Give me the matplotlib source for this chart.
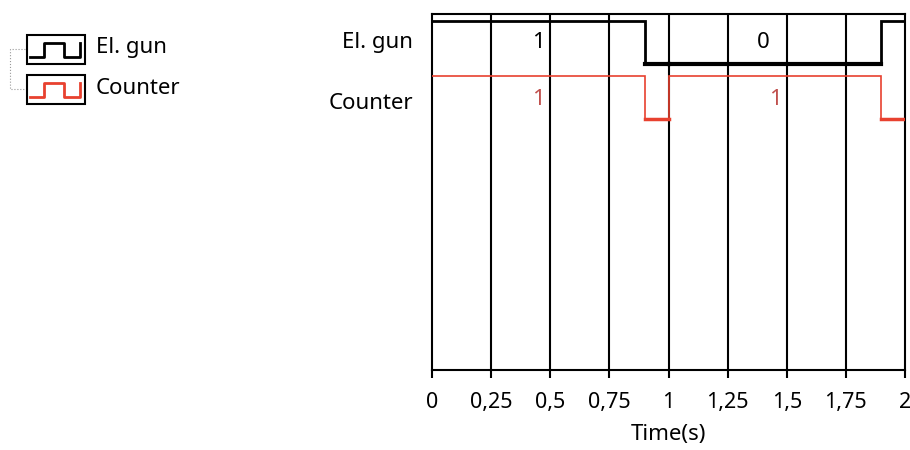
import matplotlib.pyplot as plt
from matplotlib.ticker import FuncFormatter

plt.rcParams['font.family'] = ['Noto Sans', 'DejaVu Sans']

# digital signals: (start time, bit) pairs, last edge closes at 2 s
edges = [0, 0.9, 1.0, 1.9, 2.0]
gun_bits = [1, 0, 0, 1]
counter_bits = [1, 0, 1, 0]
gun_labels = [(0.45, '1'), (1.4, '0')]
counter_labels = [(0.45, '1'), (1.45, '1')]
names = ['El. gun', 'Counter']
ticks = [0, 0.25, 0.5, 0.75, 1, 1.25, 1.5, 1.75, 2]

red = '#e8412f'
red_txt = '#c0504d'
fs = 16

fig = plt.figure(figsize=(9.1, 4.5), dpi=100)
ax = fig.add_axes([432 / 910, 80 / 450, 473 / 910, 356 / 450])

# vertical lane layout (in pixel-like units, 0 = bottom of plot)
amp = 43
gun_base, counter_base = 306, 251

def step(bits, base, color, lw, lw_low):
    xs, ys = [], []
    for i, b in enumerate(bits):
        xs += [edges[i], edges[i + 1]]
        ys += [base + b * amp, base + b * amp]
        if b == 0:
            # low levels are drawn a bit heavier
            ax.plot([edges[i], edges[i + 1]], [base, base], color=color, lw=lw_low, zorder=3)
    ax.plot(xs, ys, color=color, lw=lw, solid_joinstyle='miter', zorder=3)

for t in ticks[1:-1]:
    ax.axvline(t, color='black', lw=1.5, zorder=2)

step(gun_bits, gun_base, 'black', 2.0, 3.0)
step(counter_bits, counter_base, red, 1.2, 2.5)

for t, s in gun_labels:
    ax.text(t, gun_base + amp / 2, s, ha='center', va='center', fontsize=fs,
            color='black', zorder=4, bbox=dict(fc='white', ec='none', pad=1))
for t, s in counter_labels:
    ax.text(t, counter_base + amp / 2 - 2, s, ha='center', va='center', fontsize=fs,
            color=red_txt, zorder=4, bbox=dict(fc='white', ec='none', pad=1))

ax.set_xlim(0, 2)
ax.set_ylim(0, 356)
ax.set_yticks([])
ax.set_xticks(ticks)
ax.xaxis.set_major_formatter(FuncFormatter(lambda v, p: ('%g' % v).replace('.', ',')))
ax.tick_params(axis='x', direction='out', length=6, width=1.5, pad=10, labelsize=fs - 0.5)
for sp in ax.spines.values():
    sp.set_linewidth(1.5)
ax.set_xlabel('Time(s)', fontsize=fs, labelpad=8)

# lane names left of the plot
ax.text(-0.08, gun_base + amp / 2, names[0], ha='right', va='center', fontsize=fs)
ax.text(-0.08, counter_base + amp / 2 - 6, names[1], ha='right', va='center', fontsize=fs)

# legend with little waveform icons
lg = fig.add_axes([0, 0, 1, 1])
lg.set_xlim(0, 910)
lg.set_ylim(450, 0)
lg.axis('off')
for i, (name, col) in enumerate(zip(names, ['black', red])):
    y0 = 35 + i * 40
    lg.add_patch(plt.Rectangle((27, y0), 58, 29, fill=False, ec='black', lw=1.5))
    lg.plot([30, 44, 44, 64, 64, 80, 80], [y0 + 22, y0 + 22, y0 + 8, y0 + 8, y0 + 22, y0 + 22, y0 + 8],
            color=col, lw=2)
    lg.text(96, y0 + 13, name, ha='left', va='center', fontsize=fs)
lg.plot([25, 10, 10, 25], [49, 49, 89, 89], color='#999999', lw=0.8, ls=':')

fig.savefig('out.png', dpi=100)
